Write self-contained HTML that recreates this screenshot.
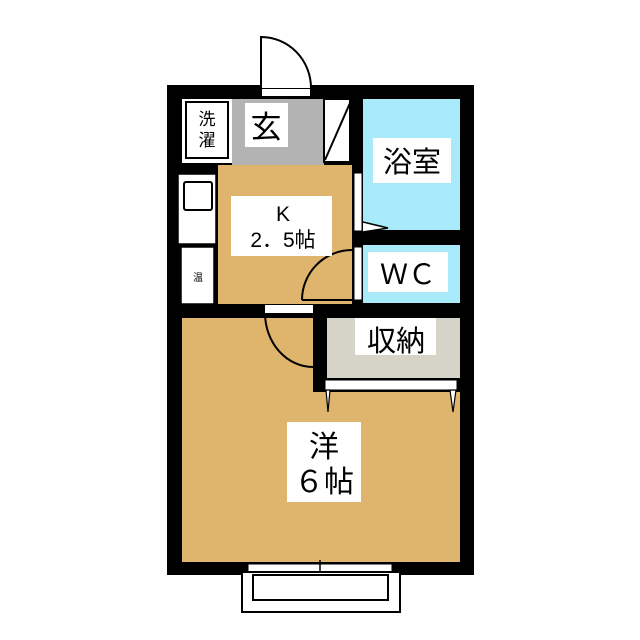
<!DOCTYPE html>
<html><head><meta charset="utf-8"><style>body{margin:0;background:#fff}svg{display:block}text{font-family:"Liberation Sans","Noto Sans CJK JP",sans-serif}</style></head><body>
<svg width="640" height="640" viewBox="0 0 640 640" xmlns="http://www.w3.org/2000/svg">
<rect width="640" height="640" fill="#fff"/>
<rect x="167" y="85" width="307" height="490" fill="#000"/>
<rect x="232" y="99" width="92" height="66" fill="#b3b3b3"/>
<rect x="182" y="99" width="50" height="64" fill="#fff"/>
<rect x="186" y="102" width="42" height="56" fill="#fff" stroke="#000" stroke-width="2"/>
<rect x="324" y="99" width="26" height="63" fill="#fff" stroke="#000" stroke-width="2"/>
<line x1="325" y1="160" x2="350" y2="103" stroke="#000" stroke-width="2"/>
<rect x="218" y="165" width="134" height="139" fill="#dfb46d"/>
<rect x="178" y="174" width="38" height="70" fill="#fff" stroke="#000" stroke-width="1.5"/>
<rect x="184" y="182" width="28" height="28" fill="#fff" stroke="#000" stroke-width="2" rx="2"/>
<rect x="181" y="247" width="33" height="57" fill="#fff" stroke="#000" stroke-width="1.5"/>
<text x="198" y="281" font-size="10" text-anchor="middle">温</text>
<rect x="363" y="99" width="97" height="131" fill="#a8eaf9"/>
<rect x="363" y="245" width="97" height="58" fill="#a8eaf9"/>
<rect x="354" y="173" width="8" height="58" fill="#fff" stroke="#000" stroke-width="1"/>
<rect x="354" y="247" width="8" height="53" fill="#fff" stroke="#000" stroke-width="1"/>
<polyline points="363,222 388,228 363,232" fill="#fff" stroke="#000" stroke-width="1.5"/>
<path d="M302,300 A50,50 0 0 1 352,250" fill="none" stroke="#000" stroke-width="2"/>
<line x1="302" y1="300" x2="352" y2="300" stroke="#000" stroke-width="2"/>
<rect x="182" y="318" width="278" height="244" fill="#dfb46d"/>
<rect x="313" y="318" width="147" height="74" fill="#000"/>
<rect x="327" y="318" width="133" height="60" fill="#d6d3c8"/>
<rect x="325" y="380" width="132" height="10" fill="#fff" stroke="#000" stroke-width="1"/>
<path d="M326,390 L330,390 L328,412 Z" fill="#fff" stroke="#000" stroke-width="1.2"/>
<path d="M450,390 L456,390 L453,412 Z" fill="#fff" stroke="#000" stroke-width="1.2"/>
<rect x="265" y="305" width="48" height="8" fill="#fff"/>
<path d="M265,313 A48,54 0 0 0 313,367" fill="none" stroke="#000" stroke-width="2"/>
<rect x="262" y="89" width="48" height="7" fill="#fff"/>
<path d="M261,88 L261,37 A50,51 0 0 1 311,88" fill="#fff" stroke="#000" stroke-width="2"/>
<rect x="248" y="564" width="144" height="8" fill="#fff" stroke="#000" stroke-width="1"/>
<line x1="320" y1="560" x2="320" y2="576" stroke="#000" stroke-width="1.5"/>
<rect x="242" y="572" width="158" height="40" fill="#fff" stroke="#000" stroke-width="2"/>
<rect x="253" y="575" width="135" height="25" fill="#fff" stroke="#000" stroke-width="2"/>
<rect x="245" y="103" width="43" height="44" fill="#fff"/>
<text x="266" y="138" font-size="31" text-anchor="middle">玄</text>
<text x="207" y="125" font-size="17" text-anchor="middle">洗</text>
<text x="207" y="146" font-size="17" text-anchor="middle">濯</text>
<rect x="373" y="138" width="78" height="45" fill="#fff"/>
<text x="412" y="172" font-size="29" text-anchor="middle">浴室</text>
<rect x="231" y="196" width="101" height="60" fill="#fff"/>
<text x="283" y="221" font-size="21" text-anchor="middle">K</text>
<text x="283" y="247" font-size="21" text-anchor="middle">2．5帖</text>
<rect x="368" y="252" width="80" height="40" fill="#fff"/>
<text x="408" y="284" font-size="28" text-anchor="middle">ＷＣ</text>
<rect x="355" y="318" width="81" height="37" fill="#fff"/>
<text x="396" y="351" font-size="29" text-anchor="middle">収納</text>
<rect x="287" y="422" width="74" height="80" fill="#fff"/>
<text x="324" y="457" font-size="30" text-anchor="middle">洋</text>
<text x="324" y="492" font-size="30" text-anchor="middle">６帖</text>
</svg>
</body></html>
